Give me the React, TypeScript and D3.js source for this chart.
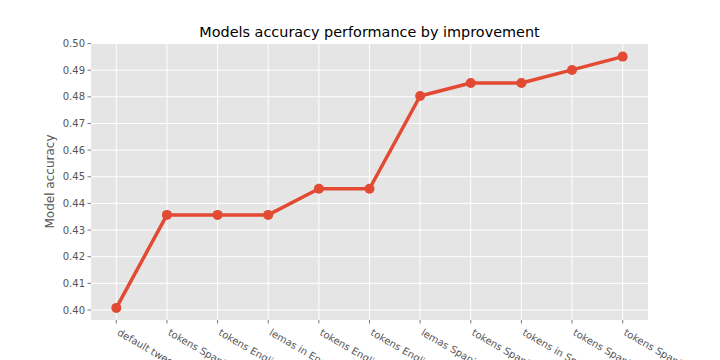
import React from "react";
import * as d3 from "d3";

const categories: string[] = [
  "default tweets",
  "tokens Spanish stopwords",
  "tokens English stopwords",
  "lemas in English",
  "tokens English lemas",
  "tokens English stemming",
  "lemas Spanish stemming",
  "tokens Spanish lemas",
  "tokens in Spanish",
  "tokens Spanish stemming",
  "tokens Spanish bigrams",
];
const accuracy: number[] = [
  0.4008, 0.4357, 0.4357, 0.4357, 0.4455, 0.4455, 0.4803, 0.4852, 0.4852, 0.4901, 0.4951,
];
const yTicks: number[] = [0.4, 0.41, 0.42, 0.43, 0.44, 0.45, 0.46, 0.47, 0.48, 0.49, 0.5];

const W = 720;
const H = 360;
const L = 91;
const R = 648;
const T = 43;
const B = 320;
const FONT = "DejaVu Sans, sans-serif";

export default function App() {
  const x = d3.scaleLinear().domain([-0.5, categories.length - 0.5]).range([L, R]);
  const y = d3.scaleLinear().domain([0.39625, 0.5002]).range([B, T]);
  const line = d3
    .line<number>()
    .x((_, i) => x(i))
    .y((d) => y(d));

  return (
    <svg
      width={W}
      height={H}
      style={{ position: "absolute", left: 0, top: 0, background: "#fff" }}
      fontFamily={FONT}
    >
      <rect x={L} y={T} width={R - L} height={B - T} fill="#E5E5E5" />
      {yTicks.map((t) => (
        <line key={"gy" + t} x1={L} x2={R} y1={y(t)} y2={y(t)} stroke="#fff" strokeWidth={1} />
      ))}
      {categories.map((_, i) => (
        <line key={"gx" + i} x1={x(i)} x2={x(i)} y1={T} y2={B} stroke="#fff" strokeWidth={1} />
      ))}
      {yTicks.map((t) => (
        <g key={"ty" + t}>
          <line x1={L - 3.5} x2={L} y1={y(t)} y2={y(t)} stroke="#555" strokeWidth={0.8} />
          <text x={L - 6} y={y(t)} dy="0.35em" textAnchor="end" fontSize={10} fill="#555">
            {t.toFixed(2)}
          </text>
        </g>
      ))}
      {categories.map((c, i) => (
        <g key={"tx" + i}>
          <line x1={x(i)} x2={x(i)} y1={B} y2={B + 3.5} stroke="#555" strokeWidth={0.8} />
          <text
            transform={`translate(${x(i) + 4},${B + 8}) rotate(30)`}
            dy="0.75em"
            textAnchor="start"
            fontSize={10}
            fill="#555"
          >
            {c}
          </text>
        </g>
      ))}
      <path d={line(accuracy) || ""} fill="none" stroke="#E24A33" strokeWidth={3.5} strokeLinejoin="round" />
      {accuracy.map((v, i) => (
        <circle key={"p" + i} cx={x(i)} cy={y(v)} r={5} fill="#E24A33" />
      ))}
      <text
        transform={`translate(54,${(T + B) / 2}) rotate(-90)`}
        textAnchor="middle"
        fontSize={12}
        fill="#555"
      >
        Model accuracy
      </text>
      <text x={(L + R) / 2} y={37} textAnchor="middle" fontSize={14.4} fill="#000">
        Models accuracy performance by improvement
      </text>
    </svg>
  );
}
